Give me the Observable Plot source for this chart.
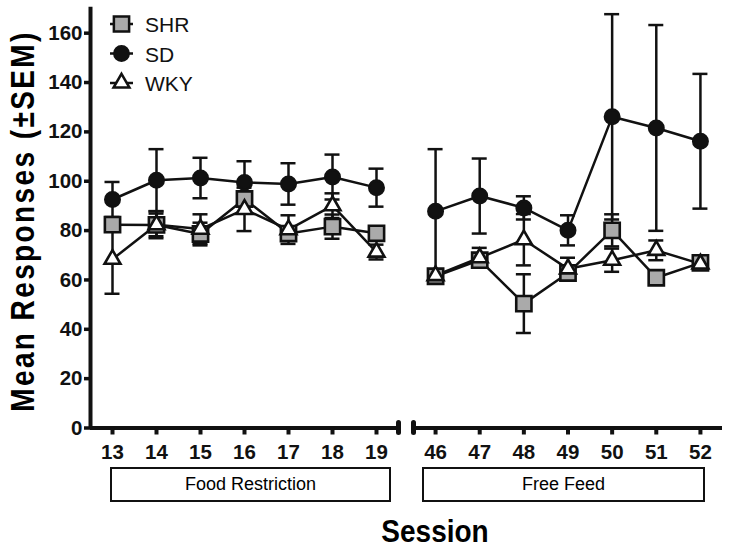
<!DOCTYPE html>
<html>
<head>
<meta charset="utf-8">
<script src="https://cdn.jsdelivr.net/npm/d3@7"></script>
<script src="https://cdn.jsdelivr.net/npm/@observablehq/plot@0.6"></script>
<style>
  html, body { margin: 0; padding: 0; background: #fff; }
  #wrap { position: relative; width: 729px; height: 552px; overflow: hidden;
          font-family: "Liberation Sans", Arial, Helvetica, sans-serif; color: #000; }
  #wrap svg.panel { position: absolute; left: 0; top: 0; }
  .ylab { position: absolute; left: 23px; top: 221px; transform: translate(-50%, -50%) rotate(-90deg) scaleY(1.2);
          white-space: nowrap; font-weight: bold; font-size: 28px; letter-spacing: 2.4px; line-height: 1; }
  .xlab { position: absolute; left: 435px; top: 518px; transform: translateX(-50%) scaleY(1.15);
          font-weight: bold; font-size: 28px; line-height: 1; white-space: nowrap; }
  .phase { position: absolute; top: 467px; height: 35px; box-sizing: border-box; border: 2.5px solid #111;
           display: flex; align-items: center; justify-content: center; font-size: 18px; }
  #legend { position: absolute; left: 0; top: 0; }
</style>
</head>
<body>
<div id="wrap"></div>
<script>
// ---------- data ----------
const groups = ["SHR", "SD", "WKY"];
const sessionsFR = [13, 14, 15, 16, 17, 18, 19];
const sessionsFF = [46, 47, 48, 49, 50, 51, 52];
const yTicks = [0, 20, 40, 60, 80, 100, 120, 140, 160];
const phaseLabels = ["Food Restriction", "Free Feed"];

// Food restriction sessions (means and SEM)
const shrFR    = [82.4, 82.3, 78.6, 92.8, 78.8, 81.6, 78.9];
const shrFRsem = [2.5, 4.6, 4.6, 3.0, 2.5, 4.9, 2.0];
const sdFR     = [92.6, 100.4, 101.3, 99.5, 98.9, 101.7, 97.4];
const sdFRsem  = [7.1, 12.6, 8.2, 8.6, 8.4, 9.1, 7.7];
const wkyFR    = [68.4, 82.4, 80.6, 88.6, 80.4, 90.1, 71.3];
const wkyFRsem = [14.0, 5.5, 6.0, 8.8, 5.8, 5.0, 3.0];

// Free feed sessions (means and SEM)
const shrFF    = [61.5, 68.0, 50.4, 62.8, 80.1, 60.9, 66.9];
const shrFFsem = [2.0, 2.5, 11.9, 2.5, 6.5, 2.0, 2.0];
const sdFF     = [87.8, 94.0, 89.2, 80.1, 126.1, 121.6, 116.2];
const sdFFsem  = [25.2, 15.2, 4.7, 6.1, 41.6, 41.7, 27.3];
const wkyFF    = [61.8, 69.0, 76.3, 64.5, 68.0, 72.0, 66.5];
const wkyFFsem = [2.0, 4.0, 10.4, 4.5, 4.7, 4.0, 2.0];

// ---------- styles ----------
const groupStyle = {
  SHR: {symbol: "square", r: 8.6, fill: "#aaaaaa", stroke: "#111"},
  SD:  {symbol: "circle", r: 7.2, fill: "#111", stroke: "#111"},
  WKY: {symbol: "triangle", r: 5.9, fill: "#fff", stroke: "#111"}
};
const FONT = '"Liberation Sans", Arial, Helvetica, sans-serif';
const W = 729, H = 470, MT = 8, MB = 42.5;

function buildRows(sessions, series) {
  const rows = [];
  series.forEach(([g, m, s]) => sessions.forEach((x, i) => rows.push({session: x, group: g, mean: m[i], sem: s[i]})));
  return rows;
}

function panel(sessions, series, {marginLeft, marginRight, showY}) {
  const data = buildRows(sessions, series);
  const xDomain = [sessions[0] - 0.5, sessions[sessions.length - 1] + 0.5];
  const marks = [];
  // axis lines
  marks.push(Plot.ruleY([0], {stroke: "#111", strokeWidth: 4}));
  if (showY) {
    marks.push(Plot.ruleX([xDomain[0]], {y1: 0, y2: 170.5, stroke: "#111", strokeWidth: 4}));
    marks.push(Plot.axisY({ticks: yTicks, tickSize: 6, tickPadding: 2, fontSize: 20.5, fontWeight: "bold",
      strokeWidth: 3.5, label: null, fill: "#111", stroke: "#111"}));
  }
  // axis break pills
  const breakX = showY ? [xDomain[1]] : [xDomain[0]];
  marks.push(Plot.ruleX(breakX, {y1: 0, y2: 0, insetTop: -5, insetBottom: -5, stroke: "#111",
    strokeWidth: 5, strokeLinecap: "round"}));
  marks.push(Plot.axisX({ticks: sessions, tickFormat: d => String(d), tickSize: 7, tickPadding: 9,
    fontSize: 20.5, fontWeight: "bold", strokeWidth: 4, label: null, fill: "#111", stroke: "#111"}));
  // per group: error bars and caps
  for (const g of groups) {
    const d = data.filter(r => r.group === g);
    marks.push(Plot.ruleX(d, {x: "session", y1: r => r.mean - r.sem, y2: r => r.mean + r.sem,
      stroke: "#111", strokeWidth: 2.5}));
    marks.push(Plot.ruleY(d, {y: r => r.mean + r.sem, x1: "session", x2: "session",
      insetLeft: -7.5, insetRight: -7.5, stroke: "#111", strokeWidth: 2.5}));
    marks.push(Plot.ruleY(d, {y: r => r.mean - r.sem, x1: "session", x2: "session",
      insetLeft: -7.5, insetRight: -7.5, stroke: "#111", strokeWidth: 2.5}));
  }
  for (const g of groups) {
    const d = data.filter(r => r.group === g);
    marks.push(Plot.line(d, {x: "session", y: "mean", stroke: "#111", strokeWidth: 2.5}));
  }
  for (const g of groups) {
    const d = data.filter(r => r.group === g);
    const st = groupStyle[g];
    marks.push(Plot.dot(d, {x: "session", y: "mean", symbol: () => st.symbol, r: st.r,
      fill: st.fill, stroke: st.stroke, strokeWidth: 2.6}));
  }
  const svg = Plot.plot({
    width: W, height: H, marginTop: MT, marginBottom: MB, marginLeft, marginRight,
    x: {domain: xDomain, axis: null},
    y: {domain: [0, 170], axis: null},
    symbol: {type: "identity"},
    style: {background: "transparent", overflow: "visible", fontFamily: FONT, color: "#111"},
    marks
  });
  svg.classList.add("panel");
  return svg;
}

const wrap = document.getElementById("wrap");
wrap.appendChild(panel(sessionsFR, [["SHR", shrFR, shrFRsem], ["SD", sdFR, sdFRsem], ["WKY", wkyFR, wkyFRsem]],
  {marginLeft: 90, marginRight: W - 398, showY: true}));
wrap.appendChild(panel(sessionsFF, [["SHR", shrFF, shrFFsem], ["SD", sdFF, sdFFsem], ["WKY", wkyFF, wkyFFsem]],
  {marginLeft: 413, marginRight: 7, showY: false}));

// ---------- legend ----------
const NS = "http://www.w3.org/2000/svg";
const leg = document.createElementNS(NS, "svg");
leg.setAttribute("id", "legend");
leg.setAttribute("width", 260);
leg.setAttribute("height", 110);
groups.forEach((g, i) => {
  const cy = 24 + i * 29.5;
  const st = groupStyle[g];
  const line = document.createElementNS(NS, "line");
  line.setAttribute("x1", 110); line.setAttribute("x2", 133);
  line.setAttribute("y1", cy); line.setAttribute("y2", cy);
  line.setAttribute("stroke", "#111"); line.setAttribute("stroke-width", 2.5);
  leg.appendChild(line);
  const p = document.createElementNS(NS, "path");
  const sym = {square: d3.symbolSquare, circle: d3.symbolCircle, triangle: d3.symbolTriangle}[st.symbol];
  p.setAttribute("d", d3.symbol(sym, Math.PI * st.r * st.r)());
  p.setAttribute("transform", `translate(121.5,${cy})`);
  p.setAttribute("fill", st.fill); p.setAttribute("stroke", st.stroke); p.setAttribute("stroke-width", 2.5);
  leg.appendChild(p);
  const t = document.createElementNS(NS, "text");
  t.setAttribute("x", 145); t.setAttribute("y", cy + 8);
  t.setAttribute("font-size", 21); t.setAttribute("font-family", FONT); t.setAttribute("fill", "#111");
  t.textContent = g;
  leg.appendChild(t);
});
wrap.appendChild(leg);

// ---------- titles and phase boxes ----------
const ylab = document.createElement("div");
ylab.className = "ylab"; ylab.textContent = "Mean Responses (±SEM)";
wrap.appendChild(ylab);
const xlab = document.createElement("div");
xlab.className = "xlab"; xlab.textContent = "Session";
wrap.appendChild(xlab);
const boxes = [[110, 391], [422, 705]];
phaseLabels.forEach((label, i) => {
  const b = document.createElement("div");
  b.className = "phase";
  b.style.left = boxes[i][0] + "px";
  b.style.width = (boxes[i][1] - boxes[i][0]) + "px";
  b.textContent = label;
  wrap.appendChild(b);
});
</script>
</body>
</html>
